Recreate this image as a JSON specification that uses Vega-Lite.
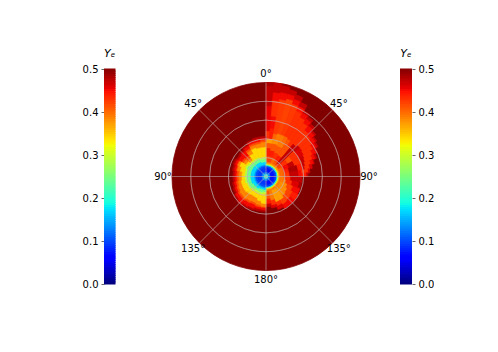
{"$schema":"https://vega.github.io/schema/vega-lite/v6.json","background":"white","padding":{"left":82,"top":48,"right":0,"bottom":0},"spacing":0,
"config":{"view":{"stroke":null},"font":"DejaVu Sans"},
"datasets":{"bar":[{"l":0,"h":0.005},{"l":0.005,"h":0.01},{"l":0.01,"h":0.015},{"l":0.015,"h":0.02},{"l":0.02,"h":0.025},{"l":0.025,"h":0.03},{"l":0.03,"h":0.035},{"l":0.035,"h":0.04},{"l":0.04,"h":0.045},{"l":0.045,"h":0.05},{"l":0.05,"h":0.055},{"l":0.055,"h":0.06},{"l":0.06,"h":0.065},{"l":0.065,"h":0.07},{"l":0.07,"h":0.075},{"l":0.075,"h":0.08},{"l":0.08,"h":0.085},{"l":0.085,"h":0.09},{"l":0.09,"h":0.095},{"l":0.095,"h":0.1},{"l":0.1,"h":0.105},{"l":0.105,"h":0.11},{"l":0.11,"h":0.115},{"l":0.115,"h":0.12},{"l":0.12,"h":0.125},{"l":0.125,"h":0.13},{"l":0.13,"h":0.135},{"l":0.135,"h":0.14},{"l":0.14,"h":0.145},{"l":0.145,"h":0.15},{"l":0.15,"h":0.155},{"l":0.155,"h":0.16},{"l":0.16,"h":0.165},{"l":0.165,"h":0.17},{"l":0.17,"h":0.175},{"l":0.175,"h":0.18},{"l":0.18,"h":0.185},{"l":0.185,"h":0.19},{"l":0.19,"h":0.195},{"l":0.195,"h":0.2},{"l":0.2,"h":0.205},{"l":0.205,"h":0.21},{"l":0.21,"h":0.215},{"l":0.215,"h":0.22},{"l":0.22,"h":0.225},{"l":0.225,"h":0.23},{"l":0.23,"h":0.235},{"l":0.235,"h":0.24},{"l":0.24,"h":0.245},{"l":0.245,"h":0.25},{"l":0.25,"h":0.255},{"l":0.255,"h":0.26},{"l":0.26,"h":0.265},{"l":0.265,"h":0.27},{"l":0.27,"h":0.275},{"l":0.275,"h":0.28},{"l":0.28,"h":0.285},{"l":0.285,"h":0.29},{"l":0.29,"h":0.295},{"l":0.295,"h":0.3},{"l":0.3,"h":0.305},{"l":0.305,"h":0.31},{"l":0.31,"h":0.315},{"l":0.315,"h":0.32},{"l":0.32,"h":0.325},{"l":0.325,"h":0.33},{"l":0.33,"h":0.335},{"l":0.335,"h":0.34},{"l":0.34,"h":0.345},{"l":0.345,"h":0.35},{"l":0.35,"h":0.355},{"l":0.355,"h":0.36},{"l":0.36,"h":0.365},{"l":0.365,"h":0.37},{"l":0.37,"h":0.375},{"l":0.375,"h":0.38},{"l":0.38,"h":0.385},{"l":0.385,"h":0.39},{"l":0.39,"h":0.395},{"l":0.395,"h":0.4},{"l":0.4,"h":0.405},{"l":0.405,"h":0.41},{"l":0.41,"h":0.415},{"l":0.415,"h":0.42},{"l":0.42,"h":0.425},{"l":0.425,"h":0.43},{"l":0.43,"h":0.435},{"l":0.435,"h":0.44},{"l":0.44,"h":0.445},{"l":0.445,"h":0.45},{"l":0.45,"h":0.455},{"l":0.455,"h":0.46},{"l":0.46,"h":0.465},{"l":0.465,"h":0.47},{"l":0.47,"h":0.475},{"l":0.475,"h":0.48},{"l":0.48,"h":0.485},{"l":0.485,"h":0.49},{"l":0.49,"h":0.495},{"l":0.495,"h":0.5}],
"cells":[{"a":0,"b":360,"r":0,"s":94,"v":0.5},
{"a":180,"b":360,"r":10,"s":12,"v":0.13},{"a":180,"b":360,"r":8,"s":10,"v":0.1},{"a":180,"b":360,"r":4,"s":8,"v":0.09},{"a":180,"b":360,"r":2,"s":4,"v":0.13},{"a":180,"b":360,"r":0,"s":2,"v":0.19},
{"a":0,"b":180,"r":13,"s":15,"v":0.39},{"a":0,"b":180,"r":12,"s":13,"v":0.36},{"a":0,"b":180,"r":11,"s":12,"v":0.3},{"a":0,"b":180,"r":10,"s":11,"v":0.18},{"a":0,"b":180,"r":8,"s":10,"v":0.09},{"a":0,"b":180,"r":4,"s":8,"v":0.07},{"a":0,"b":180,"r":2,"s":4,"v":0.12},{"a":0,"b":180,"r":0,"s":2,"v":0.19},
{"a":0,"b":10,"r":33,"s":38,"v":0.37},{"a":0,"b":10,"r":28,"s":33,"v":0.41},{"a":0,"b":10,"r":20,"s":28,"v":0.44},{"a":0,"b":10,"r":15,"s":20,"v":0.42},
{"a":10,"b":20,"r":33,"s":38,"v":0.38},{"a":10,"b":20,"r":26,"s":33,"v":0.41},{"a":10,"b":20,"r":20,"s":26,"v":0.44},{"a":10,"b":20,"r":15,"s":20,"v":0.42},
{"a":20,"b":30,"r":32,"s":38,"v":0.39},{"a":20,"b":30,"r":25,"s":32,"v":0.41},{"a":20,"b":30,"r":19,"s":25,"v":0.43},{"a":20,"b":30,"r":15,"s":19,"v":0.4},
{"a":30,"b":40,"r":33,"s":38,"v":0.41},{"a":30,"b":40,"r":24,"s":33,"v":0.41},{"a":30,"b":40,"r":18,"s":24,"v":0.44},{"a":30,"b":40,"r":15,"s":18,"v":0.41},
{"a":47,"b":50,"r":15,"s":38,"v":0.42},{"a":40,"b":47,"r":17,"s":38,"v":0.47},{"a":40,"b":47,"r":15,"s":17,"v":0.42},
{"a":50,"b":60,"r":30,"s":38,"v":0.43},{"a":50,"b":60,"r":25,"s":30,"v":0.41},{"a":50,"b":60,"r":18,"s":25,"v":0.43},{"a":50,"b":60,"r":15,"s":18,"v":0.42},
{"a":60,"b":70,"r":30,"s":38,"v":0.43},{"a":60,"b":70,"r":24,"s":30,"v":0.47},{"a":60,"b":70,"r":18,"s":24,"v":0.45},{"a":60,"b":70,"r":15,"s":18,"v":0.4},
{"a":70,"b":80,"r":32,"s":38,"v":0.44},{"a":70,"b":80,"r":23,"s":32,"v":0.48},{"a":70,"b":80,"r":18,"s":23,"v":0.44},{"a":70,"b":80,"r":15,"s":18,"v":0.4},
{"a":80,"b":90,"r":32,"s":36,"v":0.45},{"a":80,"b":90,"r":23,"s":32,"v":0.47},{"a":80,"b":90,"r":18,"s":23,"v":0.43},{"a":80,"b":90,"r":15,"s":18,"v":0.4},
{"a":90,"b":100,"r":24,"s":36,"v":0.47},{"a":90,"b":100,"r":18,"s":24,"v":0.43},{"a":90,"b":100,"r":15,"s":18,"v":0.39},
{"a":100,"b":110,"r":33,"s":36,"v":0.48},{"a":100,"b":110,"r":26,"s":33,"v":0.46},{"a":100,"b":110,"r":20,"s":26,"v":0.43},{"a":100,"b":110,"r":15,"s":20,"v":0.39},
{"a":110,"b":120,"r":28,"s":36,"v":0.45},{"a":110,"b":120,"r":22,"s":28,"v":0.42},{"a":110,"b":120,"r":15,"s":22,"v":0.38},
{"a":120,"b":130,"r":30,"s":37,"v":0.44},{"a":120,"b":130,"r":24,"s":30,"v":0.42},{"a":120,"b":130,"r":15,"s":24,"v":0.38},
{"a":130,"b":140,"r":31,"s":37,"v":0.45},{"a":130,"b":140,"r":25,"s":31,"v":0.42},{"a":130,"b":140,"r":15,"s":25,"v":0.38},
{"a":140,"b":150,"r":32,"s":37,"v":0.45},{"a":140,"b":150,"r":27,"s":32,"v":0.42},{"a":140,"b":150,"r":15,"s":27,"v":0.37},
{"a":150,"b":160,"r":31,"s":35,"v":0.46},{"a":150,"b":160,"r":27,"s":31,"v":0.43},{"a":150,"b":160,"r":15,"s":27,"v":0.37},
{"a":160,"b":170,"r":29,"s":32,"v":0.46},{"a":160,"b":170,"r":24,"s":29,"v":0.43},{"a":160,"b":170,"r":15,"s":24,"v":0.39},
{"a":170,"b":180,"r":27,"s":30,"v":0.47},{"a":170,"b":180,"r":22,"s":27,"v":0.44},{"a":170,"b":180,"r":15,"s":22,"v":0.41},
{"a":0,"b":5,"r":90,"s":94,"v":0.48},{"a":0,"b":5,"r":70,"s":90,"v":0.47},{"a":0,"b":5,"r":45,"s":70,"v":0.455},{"a":0,"b":5,"r":38,"s":45,"v":0.43},
{"a":5,"b":10,"r":84,"s":94,"v":0.47},{"a":5,"b":10,"r":76,"s":84,"v":0.45},{"a":5,"b":10,"r":60,"s":76,"v":0.43},{"a":5,"b":10,"r":48,"s":60,"v":0.45},{"a":5,"b":10,"r":38,"s":48,"v":0.44},
{"a":10,"b":15,"r":92,"s":94,"v":0.49},{"a":10,"b":15,"r":85,"s":92,"v":0.47},{"a":10,"b":15,"r":78,"s":85,"v":0.45},{"a":10,"b":15,"r":43,"s":78,"v":0.425},{"a":10,"b":15,"r":38,"s":43,"v":0.4},
{"a":15,"b":20,"r":85,"s":90,"v":0.47},{"a":15,"b":20,"r":80,"s":85,"v":0.45},{"a":15,"b":20,"r":44,"s":80,"v":0.42},{"a":15,"b":20,"r":38,"s":44,"v":0.39},
{"a":20,"b":25,"r":82,"s":87,"v":0.47},{"a":20,"b":25,"r":77,"s":82,"v":0.45},{"a":20,"b":25,"r":44,"s":77,"v":0.425},{"a":20,"b":25,"r":38,"s":44,"v":0.39},
{"a":25,"b":30,"r":77,"s":82,"v":0.47},{"a":25,"b":30,"r":72,"s":77,"v":0.445},{"a":25,"b":30,"r":44,"s":72,"v":0.43},{"a":25,"b":30,"r":38,"s":44,"v":0.4},
{"a":30,"b":35,"r":73,"s":76,"v":0.47},{"a":30,"b":35,"r":68,"s":73,"v":0.45},{"a":30,"b":35,"r":43,"s":68,"v":0.43},{"a":30,"b":35,"r":38,"s":43,"v":0.41},
{"a":35,"b":40,"r":70,"s":73,"v":0.47},{"a":35,"b":40,"r":65,"s":70,"v":0.45},{"a":35,"b":40,"r":38,"s":65,"v":0.43},
{"a":40,"b":45,"r":66,"s":69,"v":0.47},{"a":40,"b":45,"r":60,"s":66,"v":0.45},{"a":40,"b":45,"r":42,"s":60,"v":0.43},{"a":40,"b":45,"r":38,"s":42,"v":0.47},
{"a":45,"b":50,"r":63,"s":65,"v":0.47},{"a":45,"b":50,"r":58,"s":63,"v":0.45},{"a":45,"b":50,"r":44,"s":58,"v":0.43},{"a":45,"b":50,"r":38,"s":44,"v":0.47},
{"a":50,"b":55,"r":60,"s":62,"v":0.47},{"a":50,"b":55,"r":56,"s":60,"v":0.45},{"a":50,"b":55,"r":44,"s":56,"v":0.43},{"a":50,"b":55,"r":38,"s":44,"v":0.46},
{"a":55,"b":60,"r":58,"s":60,"v":0.47},{"a":55,"b":60,"r":54,"s":58,"v":0.45},{"a":55,"b":60,"r":43,"s":54,"v":0.43},{"a":55,"b":60,"r":38,"s":43,"v":0.46},
{"a":60,"b":65,"r":55,"s":57,"v":0.47},{"a":60,"b":65,"r":51,"s":55,"v":0.45},{"a":60,"b":65,"r":42,"s":51,"v":0.43},{"a":60,"b":65,"r":38,"s":42,"v":0.465},
{"a":65,"b":70,"r":52,"s":54,"v":0.47},{"a":65,"b":70,"r":49,"s":52,"v":0.45},{"a":65,"b":70,"r":41,"s":49,"v":0.43},{"a":65,"b":70,"r":38,"s":41,"v":0.47},
{"a":70,"b":75,"r":49,"s":50,"v":0.47},{"a":70,"b":75,"r":46,"s":49,"v":0.45},{"a":70,"b":75,"r":40,"s":46,"v":0.43},{"a":70,"b":75,"r":38,"s":40,"v":0.47},
{"a":75,"b":80,"r":44,"s":47,"v":0.46},{"a":75,"b":80,"r":39,"s":44,"v":0.43},{"a":75,"b":80,"r":38,"s":39,"v":0.47},
{"a":80,"b":85,"r":42,"s":44,"v":0.46},{"a":80,"b":85,"r":36,"s":42,"v":0.43},
{"a":85,"b":90,"r":40,"s":42,"v":0.47},{"a":85,"b":90,"r":36,"s":40,"v":0.44},
{"a":350,"b":360,"r":38,"s":40,"v":0.475},{"a":350,"b":360,"r":36,"s":38,"v":0.45},{"a":350,"b":360,"r":34,"s":36,"v":0.415},{"a":350,"b":360,"r":29,"s":34,"v":0.385},{"a":350,"b":360,"r":19,"s":29,"v":0.34},{"a":350,"b":360,"r":17,"s":19,"v":0.29},{"a":350,"b":360,"r":14,"s":17,"v":0.24},{"a":350,"b":360,"r":12,"s":14,"v":0.17},
{"a":340,"b":350,"r":38,"s":40,"v":0.475},{"a":340,"b":350,"r":35,"s":38,"v":0.45},{"a":340,"b":350,"r":33,"s":35,"v":0.415},{"a":340,"b":350,"r":29,"s":33,"v":0.385},{"a":340,"b":350,"r":19,"s":29,"v":0.34},{"a":340,"b":350,"r":17,"s":19,"v":0.29},{"a":340,"b":350,"r":14,"s":17,"v":0.24},{"a":340,"b":350,"r":12,"s":14,"v":0.17},
{"a":330,"b":340,"r":37,"s":39,"v":0.475},{"a":330,"b":340,"r":35,"s":37,"v":0.45},{"a":330,"b":340,"r":33,"s":35,"v":0.415},{"a":330,"b":340,"r":30,"s":33,"v":0.385},{"a":330,"b":340,"r":20,"s":30,"v":0.34},{"a":330,"b":340,"r":18,"s":20,"v":0.29},{"a":330,"b":340,"r":15,"s":18,"v":0.24},{"a":330,"b":340,"r":12,"s":15,"v":0.17},
{"a":320,"b":330,"r":35,"s":37,"v":0.475},{"a":320,"b":330,"r":32,"s":35,"v":0.45},{"a":320,"b":330,"r":30,"s":32,"v":0.415},{"a":320,"b":330,"r":26,"s":30,"v":0.385},{"a":320,"b":330,"r":20,"s":26,"v":0.34},{"a":320,"b":330,"r":18,"s":20,"v":0.29},{"a":320,"b":330,"r":15,"s":18,"v":0.24},{"a":320,"b":330,"r":12,"s":15,"v":0.17},
{"a":310,"b":320,"r":33,"s":35,"v":0.475},{"a":310,"b":320,"r":27,"s":33,"v":0.45},{"a":310,"b":320,"r":24,"s":27,"v":0.415},{"a":310,"b":320,"r":21,"s":24,"v":0.385},{"a":310,"b":320,"r":20,"s":21,"v":0.34},{"a":310,"b":320,"r":18,"s":20,"v":0.29},{"a":310,"b":320,"r":15,"s":18,"v":0.24},{"a":310,"b":320,"r":12,"s":15,"v":0.17},
{"a":300,"b":310,"r":32,"s":34,"v":0.475},{"a":300,"b":310,"r":28,"s":32,"v":0.45},{"a":300,"b":310,"r":26,"s":28,"v":0.415},{"a":300,"b":310,"r":23,"s":26,"v":0.385},{"a":300,"b":310,"r":21,"s":23,"v":0.34},{"a":300,"b":310,"r":19,"s":21,"v":0.29},{"a":300,"b":310,"r":15,"s":19,"v":0.24},{"a":300,"b":310,"r":12,"s":15,"v":0.17},
{"a":290,"b":300,"r":33,"s":35,"v":0.475},{"a":290,"b":300,"r":31,"s":33,"v":0.45},{"a":290,"b":300,"r":30,"s":31,"v":0.415},{"a":290,"b":300,"r":28,"s":30,"v":0.385},{"a":290,"b":300,"r":22,"s":28,"v":0.34},{"a":290,"b":300,"r":20,"s":22,"v":0.29},{"a":290,"b":300,"r":15,"s":20,"v":0.24},{"a":290,"b":300,"r":12,"s":15,"v":0.17},
{"a":280,"b":290,"r":32,"s":34,"v":0.475},{"a":280,"b":290,"r":30,"s":32,"v":0.45},{"a":280,"b":290,"r":29,"s":30,"v":0.415},{"a":280,"b":290,"r":26,"s":29,"v":0.385},{"a":280,"b":290,"r":21,"s":26,"v":0.34},{"a":280,"b":290,"r":19,"s":21,"v":0.29},{"a":280,"b":290,"r":15,"s":19,"v":0.24},{"a":280,"b":290,"r":12,"s":15,"v":0.17},
{"a":270,"b":280,"r":31,"s":33,"v":0.475},{"a":270,"b":280,"r":29,"s":31,"v":0.45},{"a":270,"b":280,"r":27,"s":29,"v":0.415},{"a":270,"b":280,"r":24,"s":27,"v":0.385},{"a":270,"b":280,"r":21,"s":24,"v":0.34},{"a":270,"b":280,"r":19,"s":21,"v":0.29},{"a":270,"b":280,"r":15,"s":19,"v":0.24},{"a":270,"b":280,"r":12,"s":15,"v":0.17},
{"a":260,"b":270,"r":31,"s":33,"v":0.475},{"a":260,"b":270,"r":29,"s":31,"v":0.45},{"a":260,"b":270,"r":27,"s":29,"v":0.415},{"a":260,"b":270,"r":24,"s":27,"v":0.385},{"a":260,"b":270,"r":21,"s":24,"v":0.34},{"a":260,"b":270,"r":19,"s":21,"v":0.29},{"a":260,"b":270,"r":15,"s":19,"v":0.24},{"a":260,"b":270,"r":12,"s":15,"v":0.17},
{"a":250,"b":260,"r":32,"s":34,"v":0.475},{"a":250,"b":260,"r":30,"s":32,"v":0.45},{"a":250,"b":260,"r":28,"s":30,"v":0.415},{"a":250,"b":260,"r":25,"s":28,"v":0.385},{"a":250,"b":260,"r":21,"s":25,"v":0.34},{"a":250,"b":260,"r":19,"s":21,"v":0.29},{"a":250,"b":260,"r":15,"s":19,"v":0.24},{"a":250,"b":260,"r":12,"s":15,"v":0.17},
{"a":240,"b":250,"r":33,"s":35,"v":0.475},{"a":240,"b":250,"r":31,"s":33,"v":0.45},{"a":240,"b":250,"r":29,"s":31,"v":0.415},{"a":240,"b":250,"r":25,"s":29,"v":0.385},{"a":240,"b":250,"r":20,"s":25,"v":0.34},{"a":240,"b":250,"r":18,"s":20,"v":0.29},{"a":240,"b":250,"r":15,"s":18,"v":0.24},{"a":240,"b":250,"r":12,"s":15,"v":0.17},
{"a":230,"b":240,"r":35,"s":37,"v":0.475},{"a":230,"b":240,"r":32,"s":35,"v":0.45},{"a":230,"b":240,"r":30,"s":32,"v":0.415},{"a":230,"b":240,"r":25,"s":30,"v":0.385},{"a":230,"b":240,"r":20,"s":25,"v":0.34},{"a":230,"b":240,"r":18,"s":20,"v":0.29},{"a":230,"b":240,"r":14,"s":18,"v":0.24},{"a":230,"b":240,"r":12,"s":14,"v":0.17},
{"a":220,"b":230,"r":36,"s":38,"v":0.475},{"a":220,"b":230,"r":32,"s":36,"v":0.45},{"a":220,"b":230,"r":30,"s":32,"v":0.415},{"a":220,"b":230,"r":24,"s":30,"v":0.385},{"a":220,"b":230,"r":19,"s":24,"v":0.34},{"a":220,"b":230,"r":17,"s":19,"v":0.29},{"a":220,"b":230,"r":14,"s":17,"v":0.24},{"a":220,"b":230,"r":12,"s":14,"v":0.17},
{"a":210,"b":220,"r":35,"s":37,"v":0.475},{"a":210,"b":220,"r":31,"s":35,"v":0.45},{"a":210,"b":220,"r":29,"s":31,"v":0.415},{"a":210,"b":220,"r":23,"s":29,"v":0.385},{"a":210,"b":220,"r":18,"s":23,"v":0.34},{"a":210,"b":220,"r":16,"s":18,"v":0.29},{"a":210,"b":220,"r":14,"s":16,"v":0.24},{"a":210,"b":220,"r":12,"s":14,"v":0.17},
{"a":200,"b":210,"r":34,"s":36,"v":0.475},{"a":200,"b":210,"r":30,"s":34,"v":0.45},{"a":200,"b":210,"r":28,"s":30,"v":0.415},{"a":200,"b":210,"r":23,"s":28,"v":0.385},{"a":200,"b":210,"r":18,"s":23,"v":0.34},{"a":200,"b":210,"r":16,"s":18,"v":0.29},{"a":200,"b":210,"r":13,"s":16,"v":0.24},{"a":200,"b":210,"r":12,"s":13,"v":0.17},
{"a":190,"b":200,"r":33,"s":35,"v":0.475},{"a":190,"b":200,"r":31,"s":33,"v":0.45},{"a":190,"b":200,"r":29,"s":31,"v":0.415},{"a":190,"b":200,"r":25,"s":29,"v":0.385},{"a":190,"b":200,"r":18,"s":25,"v":0.34},{"a":190,"b":200,"r":16,"s":18,"v":0.29},{"a":190,"b":200,"r":13,"s":16,"v":0.24},{"a":190,"b":200,"r":12,"s":13,"v":0.17},
{"a":180,"b":190,"r":33,"s":35,"v":0.475},{"a":180,"b":190,"r":31,"s":33,"v":0.45},{"a":180,"b":190,"r":30,"s":31,"v":0.415},{"a":180,"b":190,"r":27,"s":30,"v":0.385},{"a":180,"b":190,"r":17,"s":27,"v":0.34},{"a":180,"b":190,"r":15,"s":17,"v":0.29},{"a":180,"b":190,"r":13,"s":15,"v":0.24},{"a":180,"b":190,"r":12,"s":13,"v":0.17}]},
"hconcat":[
{"width":28,"height":215,"data":{"name":"bar"},"layer":[
{"mark":{"type":"rect","strokeWidth":1.2},"encoding":{"x":{"datum":0.6,"type":"quantitative","scale":{"domain":[0,28]},"axis":null},"x2":{"datum":10.9},"y":{"field":"l","type":"quantitative","scale":{"domain":[0,0.5]},"axis":{"values":[0,0.1,0.2,0.3,0.4,0.5],"format":".1f","title":null,"grid":false,"domain":false,"labelFontSize":10,"labelColor":"#000","tickColor":"#000","tickSize":3,"tickWidth":0.6,"labelPadding":3}},"y2":{"field":"h"},"color":{"field":"l","type":"quantitative","legend":null,"scale":{"domain":[0,0.055,0.0625,0.17,0.175,0.1875,0.32,0.325,0.33,0.445,0.455,0.5],"range":["#000080","#0000ff","#0000ff","#00dbff","#00e6f7","#15ffe2","#eeff08","#f7f600","#ffec00","#ff1300","#e80000","#800000"],"interpolate":"rgb"}},"stroke":{"field":"l","type":"quantitative","legend":null,"scale":{"domain":[0,0.055,0.0625,0.17,0.175,0.1875,0.32,0.325,0.33,0.445,0.455,0.5],"range":["#000080","#0000ff","#0000ff","#00dbff","#00e6f7","#15ffe2","#eeff08","#f7f600","#ffec00","#ff1300","#e80000","#800000"],"interpolate":"rgb"}}}},
{"data":{"values":[{"t":"Yₑ"}]},"mark":{"type":"text","fontStyle":"italic","fontSize":11,"color":"#000","dy":-15},"encoding":{"x":{"datum":5.75,"type":"quantitative","scale":{"domain":[0,28]}},"y":{"datum":0.5,"type":"quantitative","scale":{"domain":[0,0.5]}},"text":{"field":"t"}}}
]},
{"width":268,"height":215,"layer":[
{"data":{"name":"cells"},"mark":{"type":"arc","strokeWidth":0.8},"encoding":{"theta":{"field":"a","type":"quantitative","scale":{"domain":[0,360],"range":[0,6.283185]}},"theta2":{"field":"b"},"radius":{"field":"s","type":"quantitative","scale":{"domain":[0,94],"range":[0,94]}},"radius2":{"field":"r"},"color":{"field":"v","type":"quantitative","legend":null,"scale":{"domain":[0,0.055,0.0625,0.17,0.175,0.1875,0.32,0.325,0.33,0.445,0.455,0.5],"range":["#000080","#0000ff","#0000ff","#00dbff","#00e6f7","#15ffe2","#eeff08","#f7f600","#ffec00","#ff1300","#e80000","#800000"],"interpolate":"rgb"}},"stroke":{"field":"v","type":"quantitative","legend":null,"scale":{"domain":[0,0.055,0.0625,0.17,0.175,0.1875,0.32,0.325,0.33,0.445,0.455,0.5],"range":["#000080","#0000ff","#0000ff","#00dbff","#00e6f7","#15ffe2","#eeff08","#f7f600","#ffec00","#ff1300","#e80000","#800000"],"interpolate":"rgb"}}}},
{"data":{"values":[{"a":0,"b":360,"r":18.8},{"a":0,"b":360,"r":37.6},{"a":0,"b":360,"r":56.4},{"a":0,"b":360,"r":75.2}]},"mark":{"type":"arc","filled":false,"stroke":"#c4b4b4","strokeWidth":0.5,"opacity":0.85},"encoding":{"theta":{"field":"a","type":"quantitative","scale":{"domain":[0,360],"range":[0,6.283185]}},"theta2":{"field":"b"},"radius":{"field":"r","type":"quantitative","scale":{"domain":[0,94],"range":[0,94]}},"radius2":{"field":"r"}}},
{"data":{"values":[{"a":0,"r":94,"s":0},{"a":45,"r":94,"s":0},{"a":90,"r":94,"s":0},{"a":135,"r":94,"s":0},{"a":180,"r":94,"s":0},{"a":225,"r":94,"s":0},{"a":270,"r":94,"s":0},{"a":315,"r":94,"s":0}]},"mark":{"type":"arc","filled":false,"stroke":"#c4b4b4","strokeWidth":0.4,"opacity":0.85},"encoding":{"theta":{"field":"a","type":"quantitative","scale":{"domain":[0,360],"range":[0,6.283185]}},"theta2":{"field":"a"},"radius":{"field":"r","type":"quantitative","scale":{"domain":[0,94],"range":[0,94]}},"radius2":{"field":"s"}}},
{"data":{"values":[{"a":0,"t":"0°"},{"a":45,"t":"45°"},{"a":90,"t":"90°"},{"a":135,"t":"135°"},{"a":180,"t":"180°"},{"a":225,"t":"135°"},{"a":270,"t":"90°"},{"a":315,"t":"45°"}]},"mark":{"type":"text","fontSize":10,"color":"#000","radius":103},"encoding":{"theta":{"field":"a","type":"quantitative","scale":{"domain":[0,360],"range":[0,6.283185]}},"text":{"field":"t"}}}
]},
{"width":12,"height":215,"data":{"name":"bar"},"layer":[
{"mark":{"type":"rect","strokeWidth":1.2},"encoding":{"x":{"datum":0.6,"type":"quantitative","scale":{"domain":[0,12]},"axis":null},"x2":{"datum":11.4},"y":{"field":"l","type":"quantitative","scale":{"domain":[0,0.5]},"axis":{"orient":"right","values":[0,0.1,0.2,0.3,0.4,0.5],"format":".1f","title":null,"grid":false,"domain":false,"labelFontSize":10,"labelColor":"#000","tickColor":"#000","tickSize":3,"tickWidth":0.6,"labelPadding":3}},"y2":{"field":"h"},"color":{"field":"l","type":"quantitative","legend":null,"scale":{"domain":[0,0.055,0.0625,0.17,0.175,0.1875,0.32,0.325,0.33,0.445,0.455,0.5],"range":["#000080","#0000ff","#0000ff","#00dbff","#00e6f7","#15ffe2","#eeff08","#f7f600","#ffec00","#ff1300","#e80000","#800000"],"interpolate":"rgb"}},"stroke":{"field":"l","type":"quantitative","legend":null,"scale":{"domain":[0,0.055,0.0625,0.17,0.175,0.1875,0.32,0.325,0.33,0.445,0.455,0.5],"range":["#000080","#0000ff","#0000ff","#00dbff","#00e6f7","#15ffe2","#eeff08","#f7f600","#ffec00","#ff1300","#e80000","#800000"],"interpolate":"rgb"}}}},
{"data":{"values":[{"t":"Yₑ"}]},"mark":{"type":"text","fontStyle":"italic","fontSize":11,"color":"#000","dy":-15},"encoding":{"x":{"datum":6,"type":"quantitative","scale":{"domain":[0,12]}},"y":{"datum":0.5,"type":"quantitative","scale":{"domain":[0,0.5]}},"text":{"field":"t"}}}
]}
]}
